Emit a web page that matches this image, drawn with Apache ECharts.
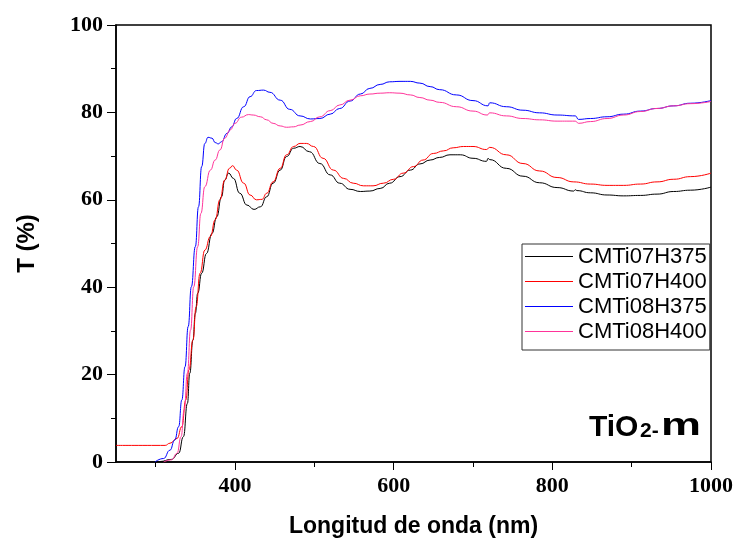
<!DOCTYPE html>
<html>
<head>
<meta charset="utf-8">
<script src="https://cdn.jsdelivr.net/npm/echarts@6/dist/echarts.min.js"></script>
<style>
  html, body { margin: 0; padding: 0; background: #fff; }
  #chart { width: 738px; height: 538px; }
</style>
</head>
<body>
<div id="chart"></div>
<script>
// Transmittance spectra of TiO2 films (wavelength in nm, T in %)
const seriesNames = ['CMTi07H375', 'CMTi07H400', 'CMTi08H375', 'CMTi08H400'];
const seriesColors = ['#000000', '#ff0000', '#0000ff', '#ff3399'];

const wl07H375 = [300, 305, 320, 329, 335, 340, 343, 347, 350, 353, 358, 364, 371, 377, 383, 387, 392, 398, 406, 415,
  424, 432, 440, 448, 457, 465, 474, 482, 494, 507, 520, 532, 545, 558, 570, 583, 595, 608, 621, 633,
  646, 658, 671, 684, 700, 717, 719, 721, 742, 763, 784, 806, 827, 829, 831, 848, 869, 890, 911, 932,
  953, 974, 1000];
const t07H375 = [0, 0.1, 0.6, 2.0, 5.8, 13.4, 20.3, 27.9, 34.0, 38.6, 43.2, 47.7, 52.3, 56.1, 60.7, 64.5, 66.1, 64.9, 61.5, 58.8,
  57.8, 58.4, 60.7, 63.8, 66.8, 69.9, 71.8, 72.2, 71.0, 68.3, 65.7, 63.8, 62.4, 61.9, 62.0, 62.6, 63.8, 65.3, 66.8, 68.2,
  69.1, 69.7, 70.3, 70.3, 69.5, 68.8, 69.5, 69.2, 67.2, 65.4, 63.9, 62.8, 62.0, 62.3, 62.1, 61.6, 61.1, 60.9, 61.0, 61.3,
  61.9, 62.2, 62.9];

const wl07H400 = [250, 312, 318, 327, 333, 338, 342, 347, 351, 356, 362, 369, 375, 381, 387, 393, 397, 402, 411, 419,
  427, 434, 440, 448, 457, 465, 474, 482, 490, 499, 511, 524, 537, 549, 562, 574, 587, 600, 612, 625,
  637, 650, 663, 675, 688, 700, 717, 721, 742, 763, 784, 806, 827, 848, 869, 890, 911, 932, 953, 974,
  1000];
const t07H400 = [3.8, 3.8, 4.3, 5.4, 8.1, 14.2, 21.1, 27.9, 35.5, 43.2, 48.5, 51.6, 55.4, 60.0, 64.5, 67.2, 67.8, 66.8, 63.8, 61.1,
  60.0, 60.1, 61.5, 64.1, 67.2, 70.3, 72.2, 72.9, 72.9, 72.2, 69.5, 66.8, 64.9, 63.8, 63.2, 63.2, 63.8, 64.7, 66.1, 67.6,
  69.1, 70.6, 71.2, 71.9, 72.2, 72.2, 71.5, 72.0, 70.3, 68.3, 66.6, 65.1, 64.1, 63.6, 63.3, 63.3, 63.6, 64.1, 64.7, 65.3,
  66.1];

const wl08H375 = [299, 310, 318, 324, 329, 333, 337, 341, 345, 350, 354, 358, 362, 366, 371, 375, 379, 383, 390, 396,
  402, 411, 419, 427, 436, 444, 457, 469, 482, 495, 507, 520, 532, 545, 558, 570, 583, 595, 608, 621,
  633, 646, 658, 679, 700, 719, 721, 742, 763, 784, 806, 829, 833, 848, 869, 890, 911, 932, 953, 974,
  1000];
const t08H375 = [0, 0.8, 2.7, 5.0, 8.1, 14.2, 21.8, 31.0, 40.1, 49.3, 58.4, 67.6, 72.9, 74.3, 74.1, 73.1, 72.8, 73.3, 75.2, 76.7,
  78.6, 81.3, 83.6, 85.0, 85.1, 84.6, 82.8, 80.7, 79.2, 78.5, 78.6, 79.6, 80.9, 82.6, 84.2, 85.5, 86.4, 87.0, 87.1, 87.1,
  86.7, 85.9, 85.2, 84.0, 82.7, 81.5, 82.2, 81.3, 80.5, 79.9, 79.4, 79.2, 78.4, 78.6, 79.0, 79.6, 80.3, 80.9, 81.5, 82.1,
  82.7];

const wl08H400 = [310, 320, 327, 332, 336, 340, 344, 348, 353, 357, 362, 369, 375, 381, 387, 394, 400, 408, 417, 423,
  432, 440, 448, 457, 465, 474, 482, 495, 507, 520, 532, 545, 558, 570, 583, 595, 608, 621, 633, 646,
  658, 679, 700, 718, 721, 742, 763, 784, 806, 829, 833, 848, 869, 890, 911, 932, 953, 974, 1000];
const t08H400 = [0, 0.5, 2.0, 5.8, 11.9, 20.3, 30.2, 40.1, 49.3, 56.9, 63.0, 66.8, 69.1, 71.4, 74.1, 76.0, 77.5, 78.9, 79.5, 79.4,
  79.0, 78.3, 77.5, 76.9, 76.6, 76.7, 77.1, 77.9, 79.0, 80.4, 81.7, 82.8, 83.8, 84.2, 84.4, 84.5, 84.4, 84.0, 83.4, 82.8,
  82.3, 81.3, 80.3, 79.4, 79.9, 79.2, 78.6, 78.3, 78.0, 78.0, 77.5, 77.9, 78.6, 79.4, 80.2, 80.9, 81.5, 82.0, 82.5];

// Axis ticks and labels
const xMajorTicks = [400, 600, 800, 1000];
const xMinorTicks = [300, 500, 700, 900];

const wavelengths = [wl07H375, wl07H400, wl08H375, wl08H400];
const transmittance = [t07H375, t07H400, t08H375, t08H400];

const serif = '"Liberation Serif", "Times New Roman", serif';
const sans = '"Liberation Sans", Arial, sans-serif';

const chart = echarts.init(document.getElementById('chart'), null, { renderer: 'canvas' });

const series = seriesNames.map((name, i) => ({
  name: name,
  type: 'line',
  xAxisIndex: 0,
  symbol: 'none',
  smooth: 0.5,
  smoothMonotone: 'x',
  color: seriesColors[i],
  lineStyle: { width: 1, color: seriesColors[i] },
  data: wavelengths[i].map((x, k) => [x, transmittance[i][k]])
}));

const axisLineStyle = { color: '#000', width: 1.5 };

chart.setOption({
  animation: false,
  backgroundColor: '#fff',
  grid: {
    left: 116, right: 27, top: 25, bottom: 76,
    outerBoundsMode: 'none',
    containLabel: false,
    show: true, borderColor: '#000', borderWidth: 1.5
  },
  legend: {
    data: seriesNames,
    orient: 'vertical',
    left: 522, top: 244,
    padding: [0, 3, 6, 3],
    icon: 'rect',
    itemWidth: 48, itemHeight: 1.2, itemGap: 0,
    borderColor: '#333', borderWidth: 1,
    backgroundColor: '#fff',
    textStyle: { fontFamily: sans, fontSize: 22, color: '#000', lineHeight: 25 }
  },
  xAxis: [{
    type: 'value',
    min: 250, max: 1000,
    position: 'bottom',
    name: 'Longitud de onda (nm)',
    nameLocation: 'middle',
    nameGap: 53,
    nameTextStyle: { fontFamily: sans, fontWeight: 'bold', fontSize: 23, color: '#000' },
    axisLine: { show: true, lineStyle: axisLineStyle },
    axisTick: { show: true, length: 8, customValues: xMajorTicks, lineStyle: { color: '#000', width: 1 } },
    axisLabel: {
      customValues: xMajorTicks, margin: 13,
      formatter: v => String(v),
      fontFamily: serif, fontWeight: 'bold', fontSize: 22, color: '#000'
    },
    splitLine: { show: false }
  }, {
    type: 'value',
    min: 250, max: 1000,
    position: 'bottom',
    axisLine: { show: false },
    axisTick: { show: true, length: 5, customValues: xMinorTicks, lineStyle: { color: '#000', width: 1 } },
    axisLabel: { show: false },
    splitLine: { show: false }
  }],
  yAxis: {
    type: 'value',
    min: 0, max: 100, interval: 20,
    name: 'T (%)',
    nameLocation: 'middle',
    nameRotate: 90,
    nameGap: 77,
    nameTextStyle: { fontFamily: sans, fontWeight: 'bold', fontSize: 24, color: '#000' },
    axisLine: { show: true, lineStyle: axisLineStyle },
    axisTick: { show: true, length: 9, lineStyle: { color: '#000', width: 1 } },
    minorTick: { show: true, splitNumber: 2, length: 5, lineStyle: { color: '#000', width: 1 } },
    axisLabel: { margin: 13, fontFamily: serif, fontWeight: 'bold', fontSize: 22, color: '#000' },
    splitLine: { show: false }
  },
  graphic: [
    { type: 'text', left: 589, top: 413, style: { text: 'TiO', font: 'bold 30px ' + sans, fill: '#000' } },
    { type: 'text', left: 640, top: 421, style: { text: '2-', font: 'bold 21px ' + sans, fill: '#000' } },
    { type: 'text', x: 661, y: 411, scaleX: 1.45, style: { text: 'm', font: 'bold 31px ' + sans, fill: '#000', textVerticalAlign: 'top' } }
  ],
  series: series
});
</script>
</body>
</html>
